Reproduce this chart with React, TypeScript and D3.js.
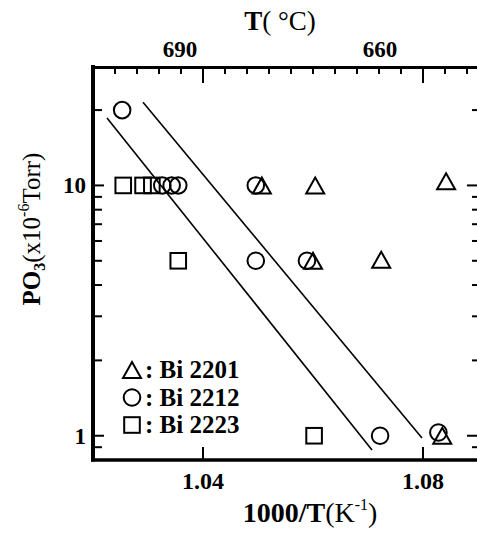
import React from "react";
import * as d3 from "d3";

// Bi 2201 (triangles)
const bi2201X = [1.0507, 1.0604, 1.0842, 1.06, 1.0724, 1.0835];
const bi2201Y = [10, 10, 10.4, 5, 5.05, 1.0];
// Bi 2212 (circles)
const bi2212X = [1.0253, 1.0326, 1.0343, 1.0355, 1.0496, 1.0496, 1.0589, 1.0722, 1.0828];
const bi2212Y = [20, 10, 10, 10, 10, 5, 5, 1, 1.03];
// Bi 2223 (squares)
const bi2223X = [1.0255, 1.0291, 1.0307, 1.0355, 1.0602];
const bi2223Y = [10, 10, 10, 5, 1];

// the two guide lines
const lineA = [
  [1.02255, 18.6],
  [1.07073, 0.877],
];
const lineB = [
  [1.02909, 21.5],
  [1.07982, 0.979],
];

const bottomTicks = [1.04, 1.08];
const topMinorTicks = d3.range(0, 17).map((i) => 1.024 + i * 0.004);
const topTempLabels = ["690", "660"];
const topTempPos = [1.0358, 1.0722];
const yTicks = [0.9, 1, 2, 3, 4, 5, 6, 7, 8, 9, 10, 20];
const yLabels = [10, 1];

const legendNames = ["Bi 2201", "Bi 2212", "Bi 2223"];

const W = 477;
const H = 536;

const x = d3.scaleLinear().domain([1.02, 1.09]).range([93, 478]);
const y = d3.scaleLog().domain([0.8, 30]).range([460, 66]);

const serif = "'Liberation Serif', 'DejaVu Serif', serif";

function Marker({ kind, cx, cy }: { kind: string; cx: number; cy: number }) {
  const sw = 2;
  if (kind === "tri") {
    const w = 18;
    const h = 16;
    return (
      <polygon
        points={`${cx - w / 2},${cy + h / 2} ${cx + w / 2},${cy + h / 2} ${cx},${cy - h / 2}`}
        fill="none"
        stroke="#000"
        strokeWidth={sw}
        strokeLinejoin="miter"
      />
    );
  }
  if (kind === "circ") {
    return <circle cx={cx} cy={cy} r={8.3} fill="none" stroke="#000" strokeWidth={sw} />;
  }
  return (
    <rect x={cx - 7.8} y={cy - 7.8} width={15.6} height={15.6} fill="none" stroke="#000" strokeWidth={sw} />
  );
}

export default function App() {
  const line = d3
    .line<number[]>()
    .x((d) => x(d[0]))
    .y((d) => y(d[1]));

  const [left, right] = x.range();
  const [bottom, top] = y.range();

  return (
    <svg
      width={W}
      height={H}
      style={{ position: "absolute", left: 0, top: 0, background: "#fff" }}
      fontFamily={serif}
    >
      {/* frame */}
      <line x1={left} x2={left} y1={top - 1} y2={bottom + 1.5} stroke="#000" strokeWidth={4} />
      <line x1={left - 2} x2={W} y1={top + 1.5} y2={top + 1.5} stroke="#000" strokeWidth={3} />
      <line x1={left - 2} x2={W} y1={bottom} y2={bottom} stroke="#000" strokeWidth={3.5} />
      <line x1={right + 1} x2={right + 1} y1={top} y2={bottom} stroke="#000" strokeWidth={3} />

      {/* top ticks */}
      {topMinorTicks.map((t) => {
        const major = Math.abs(t - 1.04) < 1e-6 || Math.abs(t - 1.08) < 1e-6;
        return (
          <line
            key={`tt${t}`}
            x1={x(t)}
            x2={x(t)}
            y1={top + 2}
            y2={top + (major ? 17 : 8)}
            stroke="#000"
            strokeWidth={2}
          />
        );
      })}
      {/* bottom ticks */}
      {bottomTicks.map((t) => (
        <line key={`bt${t}`} x1={x(t)} x2={x(t)} y1={bottom} y2={bottom - 13} stroke="#000" strokeWidth={2} />
      ))}
      {/* left & right ticks */}
      {yTicks.map((t) => {
        const major = t === 1 || t === 10;
        return (
          <g key={`yt${t}`}>
            <line x1={left} x2={left + (major ? 11 : 9)} y1={y(t)} y2={y(t)} stroke="#000" strokeWidth={2} />
            <line x1={right + 1} x2={right - (major ? 11 : 6)} y1={y(t)} y2={y(t)} stroke="#000" strokeWidth={2} />
          </g>
        );
      })}

      {/* tick labels */}
      {bottomTicks.map((t) => (
        <text key={`bl${t}`} x={x(t)} y={489} textAnchor="middle" fontSize={24} fontWeight="bold">
          {t.toFixed(2)}
        </text>
      ))}
      {topTempLabels.map((l, i) => (
        <text key={`tl${l}`} x={x(topTempPos[i])} y={57} textAnchor="middle" fontSize={23} fontWeight="bold">
          {l}
        </text>
      ))}
      {yLabels.map((v) => (
        <text key={`yl${v}`} x={86} y={y(v) + 8} textAnchor="end" fontSize={23} fontWeight="bold">
          {v}
        </text>
      ))}

      {/* axis titles */}
      <text x={280} y={30} textAnchor="middle" fontSize={27}>
        <tspan fontWeight="bold">T</tspan>
        <tspan>( °C)</tspan>
      </text>
      <text x={310} y={522} textAnchor="middle" fontSize={28}>
        <tspan fontWeight="bold">1000/T</tspan>
        <tspan>(K</tspan>
        <tspan fontSize={16} dy={-12}>-1</tspan>
        <tspan dy={12}>)</tspan>
      </text>
      <text transform="translate(40,229) rotate(-90)" textAnchor="middle" fontSize={25}>
        <tspan fontWeight="bold">PO</tspan>
        <tspan fontWeight="bold" fontSize={16} dy={5}>3</tspan>
        <tspan dy={-5}>(x10</tspan>
        <tspan fontSize={16} dy={-11}>-6</tspan>
        <tspan dy={11}>Torr)</tspan>
      </text>

      {/* guide lines */}
      <path d={line(lineA) ?? ""} fill="none" stroke="#000" strokeWidth={1.6} />
      <path d={line(lineB) ?? ""} fill="none" stroke="#000" strokeWidth={1.6} />

      {/* data */}
      {bi2223X.map((v, i) => (
        <Marker key={`s${i}`} kind="sq" cx={x(v)} cy={y(bi2223Y[i])} />
      ))}
      {bi2212X.map((v, i) => (
        <Marker key={`c${i}`} kind="circ" cx={x(v)} cy={y(bi2212Y[i])} />
      ))}
      {bi2201X.map((v, i) => (
        <Marker key={`t${i}`} kind="tri" cx={x(v)} cy={y(bi2201Y[i])} />
      ))}

      {/* legend */}
      {legendNames.map((n, i) => {
        const cy = 370 + i * 27.5;
        return (
          <g key={n}>
            <Marker kind={["tri", "circ", "sq"][i]} cx={132} cy={cy} />
            <text x={145} y={cy + 8} fontSize={25} fontWeight="bold">
              : {n}
            </text>
          </g>
        );
      })}
    </svg>
  );
}
